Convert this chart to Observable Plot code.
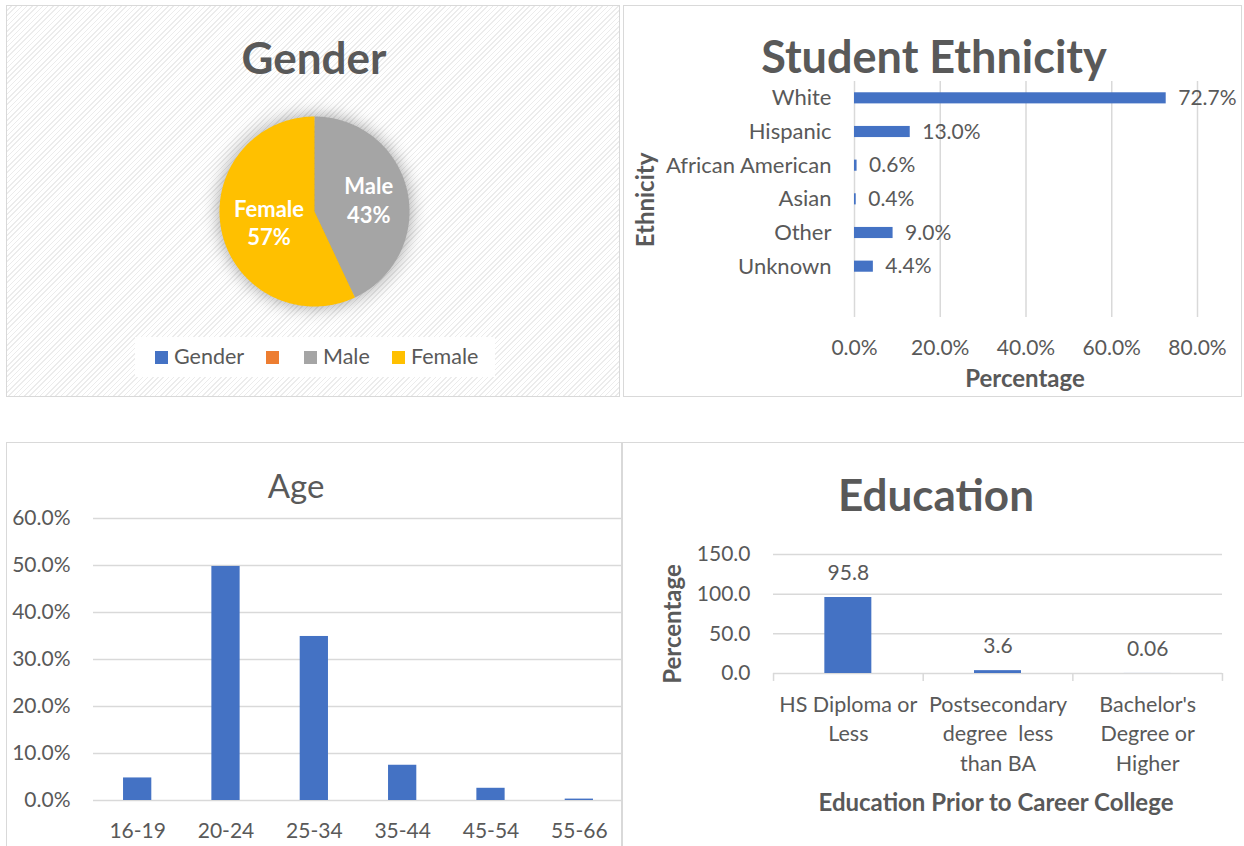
<!DOCTYPE html>
<html>
<head>
<meta charset="utf-8">
<script src="https://cdn.jsdelivr.net/npm/d3@7"></script>
<script src="https://cdn.jsdelivr.net/npm/@observablehq/plot@0.6"></script>
<style>
html,body{margin:0;padding:0;background:#fff;}
body{width:1244px;height:846px;position:relative;overflow:hidden;font-family:Lato,"Noto Sans",sans-serif;color:#595959;}
.panel{position:absolute;box-sizing:border-box;border:1.5px solid #d9d9d9;background:#fff;}
.stripes{background:repeating-linear-gradient(135deg,#ffffff 0px,#ffffff 2.6px,#ececec 2.6px,#ececec 3.7px);}
.lbl{position:absolute;white-space:pre;line-height:1;transform:translate(-50%,-50%);}
.rot{transform:translate(-50%,-50%) rotate(-90deg);}
.plot{position:absolute;overflow:visible;}
svg text{white-space:pre;}
.legend{position:absolute;background:#fff;}
.sw{position:absolute;width:13px;height:13px;}
</style>
</head>
<body>
<script>
// ---------- DATA ----------
const genderLabels = ["Male", "Female"];
const genderShares = [43, 57];
const genderColors = ["#A5A5A5", "#FFC000"];
const legendLabels = ["Gender", "", "Male", "Female"];
const legendColors = ["#4472C4", "#ED7D31", "#A5A5A5", "#FFC000"];

const ethnicities = ["White", "Hispanic", "African American", "Asian", "Other", "Unknown"];
const ethnicityPct = [72.7, 13.0, 0.6, 0.4, 9.0, 4.4];
const ethnicityTicks = [0, 20, 40, 60, 80];

const ageGroups = ["16-19", "20-24", "25-34", "35-44", "45-54", "55-66"];
const agePct = [4.8, 49.8, 34.9, 7.5, 2.6, 0.3];
const ageTicks = [0, 10, 20, 30, 40, 50, 60];

const eduLevels = ["HS Diploma or\nLess", "Postsecondary\ndegree  less\nthan BA", "Bachelor's\nDegree or\nHigher"];
const eduPct = [95.8, 3.6, 0.06];
const eduTicks = [0, 50, 100, 150];

const BLUE = "#4472C4", GRID = "#d9d9d9", TXT = "#595959";
const FONT = "Lato, 'Noto Sans', sans-serif";
const pieLabelRadius = [0.585, 0.49];

// ---------- helpers ----------
function panel(x, y, w, h, cls) {
  const d = document.createElement("div");
  d.className = "panel " + (cls || "");
  Object.assign(d.style, {left: x + "px", top: y + "px", width: w + "px", height: h + "px"});
  document.body.appendChild(d);
}
function label(text, x, y, size, weight, rot) {
  const d = document.createElement("div");
  d.className = "lbl" + (rot ? " rot" : "");
  d.textContent = text;
  Object.assign(d.style, {left: x + "px", top: y + "px", fontSize: size + "px", fontWeight: weight || "normal"});
  document.body.appendChild(d);
}
function place(svg, x, y) {
  svg.classList.add("plot");
  svg.style.left = x + "px";
  svg.style.top = y + "px";
  document.body.appendChild(svg);
  return svg;
}
const baseStyle = {fontFamily: FONT, fontSize: "21px", color: TXT, background: "transparent", overflow: "visible"};

// ---------- panels ----------
panel(6, 5, 614, 392, "stripes");
panel(623, 5, 619, 392);
panel(6, 442, 616, 410);
panel(622, 442, 630, 410);

// ---------- Gender pie ----------
const slices = d3.pie().sort(null).value((d, i) => genderShares[i])(genderLabels);
const piePoints = slices.flatMap(s => {
  const n = Math.max(2, Math.ceil((s.endAngle - s.startAngle) / (Math.PI / 180)));
  const pts = [{label: s.data, x: 0, y: 0}];
  for (let k = 0; k <= n; k++) {
    const a = s.startAngle + (s.endAngle - s.startAngle) * k / n;
    pts.push({label: s.data, x: Math.sin(a), y: Math.cos(a)});
  }
  return pts;
});
const pieLabels = slices.map((s, i) => {
  const m = (s.startAngle + s.endAngle) / 2;
  const r = pieLabelRadius[i];
  return {x: r * Math.sin(m), y: r * Math.cos(m), text: s.data + "\n" + genderShares[i] + "%"};
});
const pie = Plot.plot({
  width: 240, height: 240, margin: 25,
  style: baseStyle,
  x: {domain: [-1, 1], axis: null},
  y: {domain: [-1, 1], axis: null},
  color: {domain: genderLabels, range: genderColors},
  marks: [
    Plot.line(piePoints, {x: "x", y: "y", z: "label", fill: "label", stroke: "none", curve: "linear"}),
    Plot.text(pieLabels, {x: "x", y: "y", text: "text", fill: "white", fontWeight: "bold", fontSize: 22, lineHeight: 1.3})
  ]
});
place(pie, 194, 91);
const pg = pie.querySelector('g[aria-label="line"]');
if (pg) pg.style.filter = "drop-shadow(0px 0px 9px rgba(0,0,0,0.38))";
label("Gender", 314, 57, 44, "bold");

// legend
const lg = document.createElement("div");
lg.className = "legend";
Object.assign(lg.style, {left: "135px", top: "337px", width: "360px", height: "40px"});
document.body.appendChild(lg);
const swX = [155, 266, 304, 392];
legendLabels.forEach((t, i) => {
  const s = document.createElement("div");
  s.className = "sw";
  Object.assign(s.style, {left: swX[i] + "px", top: "351px", background: legendColors[i]});
  document.body.appendChild(s);
  if (t) {
    const d = document.createElement("div");
    d.textContent = t;
    Object.assign(d.style, {position: "absolute", left: (swX[i] + 19) + "px", top: "357px", fontSize: "21.5px", lineHeight: "1", transform: "translateY(-50%)"});
    document.body.appendChild(d);
  }
});

// ---------- Ethnicity ----------
const ethData = ethnicities.map((e, i) => ({cat: e, v: ethnicityPct[i]}));
const eth = Plot.plot({
  width: 618, height: 390,
  marginLeft: 230, marginRight: 45, marginTop: 75, marginBottom: 79,
  style: baseStyle,
  x: {domain: [0, 80]},
  y: {domain: ethnicities, range: [75, 277], paddingInner: 0.67, paddingOuter: 0.335, round: false},
  marks: [
    Plot.gridX({ticks: ethnicityTicks, stroke: GRID, strokeOpacity: 1, strokeWidth: 1.5}),
    Plot.axisX({ticks: ethnicityTicks, tickFormat: d => d.toFixed(1) + "%", tickSize: 0, tickPadding: 23, label: null}),
    Plot.axisY({tickSize: 0, tickPadding: 23, label: null, fontSize: 22}),
    Plot.barX(ethData, {x: "v", y: "cat", fill: BLUE}),
    Plot.text(ethData, {x: "v", y: "cat", text: d => d.v.toFixed(1) + "%", textAnchor: "start", dx: 12, fill: TXT, fontSize: 21})
  ]
});
place(eth, 624, 6);
label("Student Ethnicity", 934, 56, 45, "bold");
label("Percentage", 1025, 378, 24, "bold");
label("Ethnicity", 645, 200, 24, "bold", true);

// ---------- Age ----------
const ageData = ageGroups.map((g, i) => ({g, v: agePct[i]}));
const age = Plot.plot({
  width: 616, height: 403,
  marginLeft: 86, marginRight: 0, marginTop: 75, marginBottom: 46,
  style: baseStyle,
  x: {domain: ageGroups, paddingInner: 0.68, paddingOuter: 0.34, round: false},
  y: {domain: [0, 60]},
  marks: [
    Plot.gridY({ticks: ageTicks, stroke: GRID, strokeOpacity: 1, strokeWidth: 1.5}),
    Plot.axisY({ticks: ageTicks, tickFormat: d => d.toFixed(1) + "%", tickSize: 0, tickPadding: 23, label: null}),
    Plot.axisX({tickSize: 0, tickPadding: 23, label: null}),
    Plot.barY(ageData, {x: "g", y: "v", fill: BLUE})
  ]
});
place(age, 7, 443);
label("Age", 296, 485, 33, "normal");

// ---------- Education ----------
const eduData = eduLevels.map((c, i) => ({c, v: eduPct[i]}));
const eduLast = [eduData[eduData.length - 1]];
const edu = Plot.plot({
  width: 621, height: 403,
  marginLeft: 150, marginRight: 22, marginTop: 111, marginBottom: 173,
  style: baseStyle,
  x: {domain: eduLevels, paddingInner: 0.686, paddingOuter: 0.343, round: false},
  y: {domain: [0, 150]},
  marks: [
    Plot.gridY({ticks: eduTicks, stroke: GRID, strokeOpacity: 1, strokeWidth: 1.5}),
    Plot.axisY({ticks: eduTicks, tickFormat: d => d.toFixed(1), tickSize: 0, tickPadding: 23, label: null}),
    Plot.axisX({tickSize: 0, tickPadding: 17, lineHeight: 1.38, fontSize: 21.5, label: null}),
    Plot.ruleX(eduData, {x: "c", y1: 0, y2: -10, stroke: GRID, strokeWidth: 1.5, dx: -74.8}),
    Plot.ruleX(eduLast, {x: "c", y1: 0, y2: -10, stroke: GRID, strokeWidth: 1.5, dx: 74.8}),
    Plot.barY(eduData, {x: "c", y: "v", fill: BLUE}),
    Plot.text(eduData, {x: "c", y: "v", text: d => String(d.v), dy: -24, fill: TXT, fontSize: 21})
  ]
});
place(edu, 623, 443);
label("Education", 936, 494, 44, "bold");
label("Percentage", 672, 624, 24, "bold", true);
label("Education Prior to Career College", 996, 802, 24, "bold");
</script>
</body>
</html>
